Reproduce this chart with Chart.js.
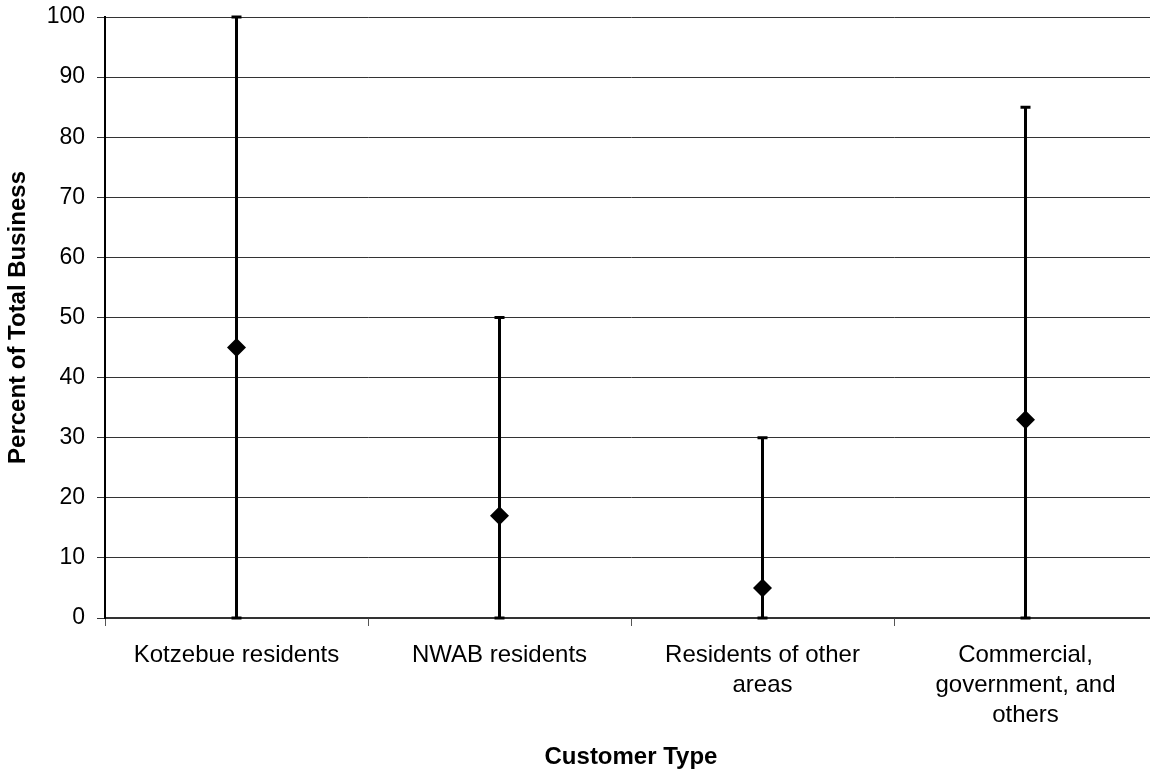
<!DOCTYPE html>
<html>
<head>
<meta charset="utf-8">
<script src="https://cdn.jsdelivr.net/npm/chart.js@4"></script>
<style>
  html, body { margin: 0; padding: 0; background: #fff; overflow: hidden; }
  #wrap { width: 1150px; height: 772px; overflow: hidden; }
</style>
</head>
<body>
<div id="wrap"><canvas id="chart" width="1157" height="772"></canvas></div>
<script>
// data
const categories = [
    'Kotzebue residents',
    ['NWAB residents'],
    ['Residents of other', 'areas'],
    ['Commercial,', 'government, and', 'others']
];
const averageShare = [45, 17, 5, 33];
const lowShare = [0, 0, 0, 0];
const highShare = [100, 50, 30, 85];
const yTicks = [0, 10, 20, 30, 40, 50, 60, 70, 80, 90, 100];

const font = 'Arial, "Liberation Sans", sans-serif';

// draws the range whiskers behind the markers
const rangeBars = {
    id: 'rangeBars',
    beforeDatasetsDraw(chart) {
        const ctx = chart.ctx;
        const x = chart.scales.x;
        const y = chart.scales.y;
        ctx.save();
        ctx.strokeStyle = '#000';
        ctx.lineWidth = 3;
        ctx.lineCap = 'butt';
        averageShare.forEach((v, i) => {
            const px = x.getPixelForValue(i);
            const top = y.getPixelForValue(highShare[i]);
            const bot = y.getPixelForValue(lowShare[i]);
            ctx.beginPath();
            ctx.moveTo(px, top);
            ctx.lineTo(px, bot);
            ctx.moveTo(px - 5, top);
            ctx.lineTo(px + 5, top);
            ctx.moveTo(px - 5, bot);
            ctx.lineTo(px + 5, bot);
            ctx.stroke();
        });
        ctx.restore();
    }
};

new Chart(document.getElementById('chart'), {
    type: 'line',
    data: {
        labels: categories,
        datasets: [{
            data: averageShare,
            showLine: false,
            pointStyle: 'rectRot',
            pointRadius: 9.5,
            pointBackgroundColor: '#000',
            pointBorderColor: '#000',
            pointBorderWidth: 0
        }]
    },
    options: {
        responsive: false,
        animation: false,
        layout: { autoPadding: false, padding: { top: 17, right: 0, left: 0, bottom: 0 } },
        plugins: {
            legend: { display: false },
            tooltip: { enabled: false }
        },
        scales: {
            x: {
                offset: true,
                grid: {
                    offset: true,
                    drawOnChartArea: false,
                    drawTicks: true,
                    tickLength: 8,
                    color: '#555'
                },
                border: { color: '#333', width: 1.5 },
                ticks: {
                    color: '#000',
                    font: { family: font, size: 24, lineHeight: 1.25 },
                    padding: 14,
                    maxRotation: 0,
                    autoSkip: false
                },
                title: {
                    display: true,
                    text: 'Customer Type',
                    color: '#000',
                    font: { family: font, size: 24, weight: 'bold' },
                    padding: { top: 0, bottom: 0 }
                },
                afterFit(scale) {
                    scale.height = 154;
                    scale.paddingLeft = 0;
                    scale.paddingRight = 0;
                }
            },
            y: {
                min: 0,
                max: 100,
                afterBuildTicks(scale) {
                    scale.ticks = yTicks.map(v => ({ value: v }));
                },
                grid: {
                    color: '#333',
                    lineWidth: 1,
                    tickLength: 8
                },
                border: { color: '#000', width: 2 },
                ticks: {
                    color: '#000',
                    font: { family: font, size: 23 },
                    padding: 12
                },
                title: {
                    display: true,
                    text: 'Percent of Total Business',
                    color: '#000',
                    font: { family: font, size: 24, weight: 'bold' },
                    padding: { top: 4, bottom: 0 }
                },
                afterFit(scale) {
                    scale.width = 105;
                    scale.paddingTop = 0;
                    scale.paddingBottom = 0;
                }
            }
        }
    },
    plugins: [rangeBars]
});
</script>
</body>
</html>
